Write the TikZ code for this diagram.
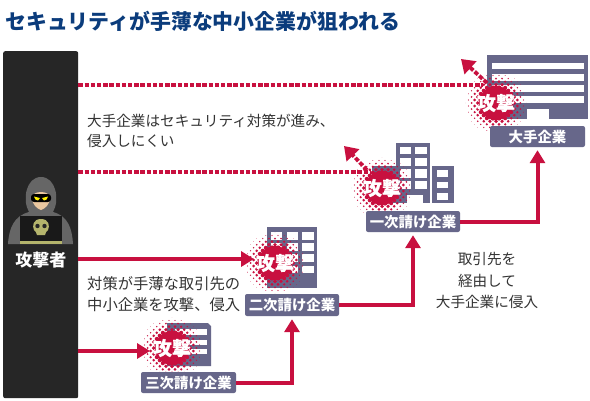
\documentclass[tikz,border=0pt]{standalone}
\usepackage{fontspec}
\setmainfont{Noto Sans CJK JP}
\newfontfamily\burstfont[BoldFeatures={FakeBold=0.4}]{Noto Sans CJK JP}
\usetikzlibrary{arrows.meta}
\definecolor{atkred}{HTML}{C8103F}
\definecolor{bldg}{HTML}{67678A}
\definecolor{navy}{HTML}{0B3C7C}
\definecolor{panel}{HTML}{262626}
\definecolor{hood}{HTML}{666666}
\definecolor{olive}{HTML}{B4B46C}
\definecolor{skin}{HTML}{EBC8A0}
\definecolor{txt}{HTML}{333333}
\tikzset{
  x=1pt,y=-1pt,
  solidarrow/.style={draw=atkred,line width=4pt,-{Triangle[length=13pt,width=15pt]}},
  dashline/.style={draw=atkred,line width=3.8pt,dash pattern=on 4.4pt off 1.8pt},
  dasharrow/.style={dashline,-{Triangle[length=13pt,width=17pt]}},
  labelbox/.style={fill=bldg,rounded corners=2pt,text=white,font=\fontsize{14.4}{14.4}\selectfont\bfseries,inner sep=0pt,anchor=center},
  body/.style={text=txt,font=\fontsize{14.6}{14.6}\selectfont,inner sep=0pt},
  bodywide/.style={text=txt,font=\fontsize{15.3}{15.3}\selectfont,inner sep=0pt},
  win/.style={fill=white,draw=none},
  bfill/.style={fill=bldg,draw=none},
}
\newcommand{\burstat}[3]{%
  \foreach \i in {-7,...,7}{\foreach \j in {-7,...,7}{%
    \pgfmathsetmacro{\dx}{(\i+\j)*3.05}%
    \pgfmathsetmacro{\dy}{(\i-\j)*3.05}%
    \pgfmathsetmacro{\dd}{sqrt(\dx*\dx+\dy*\dy)}%
    \pgfmathsetmacro{\rr}{2.7*(1-(\dd-13)/19)}%
    \ifdim\dd pt<31pt
      \fill[atkred] (#2+\dx,#3+\dy) circle[radius=\rr];
    \fi
  }}%
  \fill[atkred] (#2,#3) circle[radius=17];
  \node[text=white,font=\burstfont\fontsize{19}{19}\selectfont\bfseries,inner sep=0pt] (#1) at (#2,#3) {攻撃};
}
\begin{document}
\begin{tikzpicture}
\useasboundingbox (0,0) rectangle (590,400);
\fill[white] (0,0) rectangle (590,400);
\node[text=navy,font=\fontsize{20.9}{20.9}\selectfont\bfseries,inner sep=0pt,anchor=west] (title) at (5,21) {セキュリティが手薄な中小企業が狙われる};
% attacker panel
\node[fill=panel,rounded corners=2pt,minimum width=75pt,minimum height=347pt,inner sep=0pt,anchor=north west] (atk) at (3,51) {};
% hacker
\fill[hood] (8,244) .. controls (9,228) and (14,216) .. (29,212) .. controls (22,200) and (26,177) .. (41,177) .. controls (56,177) and (60,200) .. (53,212) .. controls (68,216) and (72,228) .. (73,244) -- cycle;
\fill[skin] (32,198) .. controls (32,190) and (50,190) .. (50,198) .. controls (50,204) and (45,209) .. (41,210) .. controls (37,209) and (32,204) .. (32,198) -- cycle;
\fill[black,rounded corners=3pt] (31,194) rectangle (51,202);
\fill[yellow] (34,196.5) -- (40,198) -- (38,200.5) -- (35.5,199.5) -- cycle;
\fill[yellow] (48,196.5) -- (42,198) -- (44,200.5) -- (46.5,199.5) -- cycle;
\fill[black!90] (20,216) rectangle (62,241);
\fill[olive] (20,241) rectangle (62,244);
\fill[olive] (41,219) .. controls (33,219) and (32,226) .. (34,230) .. controls (35,232) and (37,232) .. (37,235) -- (45,235) .. controls (45,232) and (47,232) .. (48,230) .. controls (50,226) and (49,219) .. (41,219) -- cycle;
\fill[black!85] (37.5,226) circle[radius=2.2] (44.5,226) circle[radius=2.2];
\node[text=white,font=\fontsize{17}{17}\selectfont\bfseries,inner sep=0pt] (atklabel) at (41,260) {攻撃者};
% named anchors for connectors
\coordinate (d1) at (483,85);
\coordinate (d2) at (370,172);
\coordinate (t1s) at (487,83);
\coordinate (t1e) at (461,59);
\coordinate (t2s) at (367,170);
\coordinate (t2e) at (344,146);
\coordinate (s2) at (254,259);
\coordinate (s3) at (150,351);
% big company
\fill[bfill] (487,55) rectangle (588,119);
\foreach \a/\b in {63/69,74/81,85/92,96/103}{\fill[win] (492,\a) rectangle (584,\b);}
\fill[win] (527,109) rectangle (549,119.5);
% tier 1
\fill[bfill] (372,166) rectangle (396,203);
\fill[bfill] (396,143) rectangle (430,203);
\fill[bfill] (432,166) rectangle (454,203);
\fill[win] (407,195) rectangle (423,203.5);
\foreach \a/\b in {147/154,158/166,169/178,181/189}{
  \fill[win] (400,\a) rectangle (411,\b);
  \fill[win] (415,\a) rectangle (427,\b);}
\foreach \a/\b in {170/177,182/188,193/200}{\fill[win] (437,\a) rectangle (448,\b);}
% tier 2
\fill[bfill] (267,227) rectangle (317,288);
\foreach \a/\b in {232/240,243/251,254/262,266/273}{
  \fill[win] (271,\a) rectangle (282,\b);
  \fill[win] (287,\a) rectangle (298,\b);
  \fill[win] (302,\a) rectangle (314,\b);}
% tier 3
\fill[bfill] (167,323) -- (208,323) -- (211,326) -- (211,366) -- (167,366) -- cycle;
\foreach \a/\b in {329/335,340/345,349/354}{\fill[win] (175,\a) rectangle (207,\b);}
% dashed lines
\draw[dashline] (atk.east |- d1) -- (d1);
\draw[dashline] (atk.east |- d2) -- (d2);
\draw[dasharrow] (t1s) -- (t1e);
\draw[dasharrow] (t2s) -- (t2e);
% solid from attacker
\draw[solidarrow] (atk.east |- s2) -- (s2);
\draw[solidarrow] (atk.east |- s3) -- (s3);
% bursts
\burstat{b0}{496}{103}
\burstat{b1}{382}{188}
\burstat{b2}{275}{263}
\burstat{b3}{172}{348}
% labels
\node[labelbox,minimum width=95pt,minimum height=21pt] (l0) at (537.5,136.5) {大手企業};
\node[labelbox,minimum width=94pt,minimum height=21pt] (l1) at (413,221.5) {一次請け企業};
\node[labelbox,minimum width=94pt,minimum height=22pt] (l2) at (292,305) {二次請け企業};
\node[labelbox,minimum width=95pt,minimum height=21pt] (l3) at (188.5,382.5) {三次請け企業};
\draw[solidarrow,shorten >=3pt] (l3.east) -| (l2.south);
\draw[solidarrow,shorten >=3pt] (l2.east) -| (l1.south);
\draw[solidarrow,shorten >=3pt] (l1.east) -| (l0.south);
% body text
\node[body,anchor=west] (n1) at (87,121) {大手企業はセキュリティ対策が進み、};
\node[body,anchor=west] (n2) at (87,141) {侵入しにくい};
\node[bodywide,anchor=west] (n3) at (87,284) {対策が手薄な取引先の};
\node[bodywide,anchor=west] (n4) at (87,305) {中小企業を攻撃、侵入};
\node[body] (n5) at (487,259) {取引先を};
\node[body] (n6) at (487,281) {経由して};
\node[body] (n7) at (487,302) {大手企業に侵入};
\end{tikzpicture}
\end{document}
